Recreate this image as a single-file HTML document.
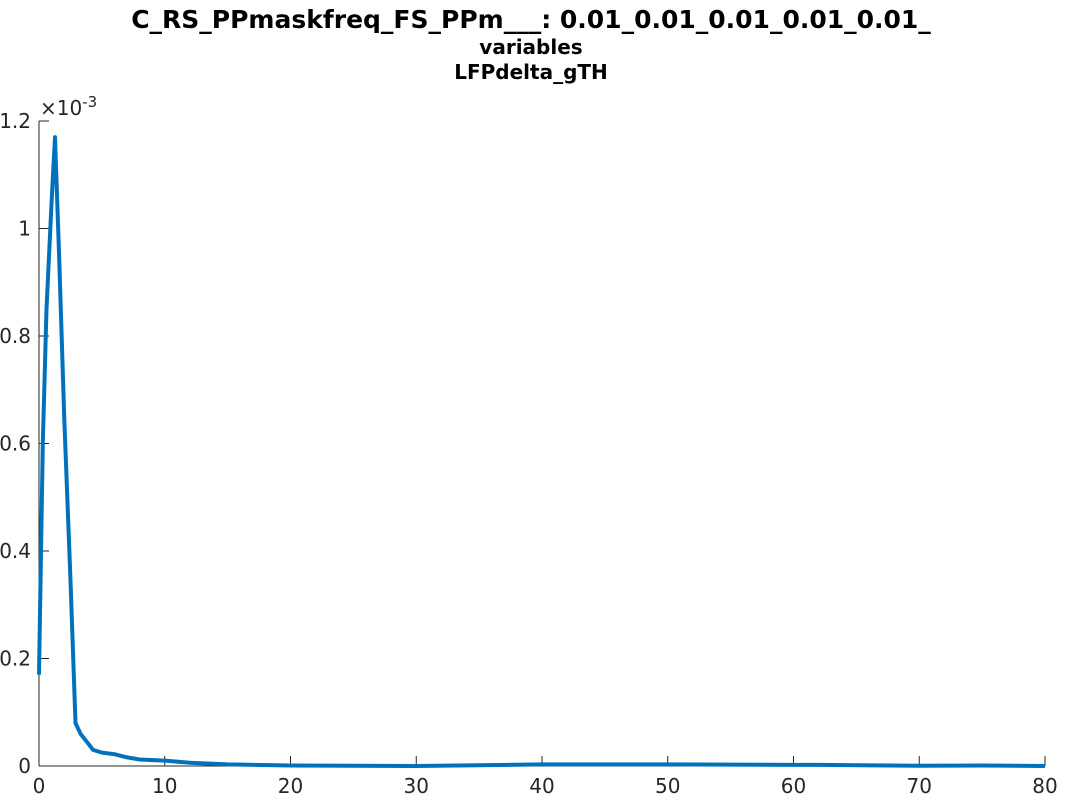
<!DOCTYPE html>
<html><head><meta charset="utf-8"><style>
body{margin:0;background:#fff;width:1067px;height:800px;overflow:hidden;font-family:"DejaVu Sans",sans-serif}
</style></head><body>
<svg id="chart" width="1067" height="800" xmlns="http://www.w3.org/2000/svg" font-family="DejaVu Sans, sans-serif">
<text x="531" y="28" text-anchor="middle" font-size="25" font-weight="bold" fill="#000">C_RS_PPmaskfreq_FS_PPm___: 0.01_0.01_0.01_0.01_0.01_</text>
<text x="531" y="54" text-anchor="middle" font-size="20" font-weight="bold" fill="#000">variables</text>
<text x="531" y="79" text-anchor="middle" font-size="20" font-weight="bold" fill="#000">LFPdelta_gTH</text>
<g id="axes"></g>
<g id="series"></g>
</svg>
<script>
const freqs=[0,0.3,0.6,1.0,1.27,1.6,2.0,2.5,2.9,3.3,3.8,4.3,5,6,7,8,10,12,15,20,30,40,50,60,62,70,75,80];
const power=[0.17,0.6,0.85,1.05,1.17,0.95,0.65,0.35,0.08,0.06,0.045,0.03,0.025,0.022,0.016,0.012,0.01,0.006,0.003,0.001,0.0,0.003,0.003,0.002,0.002,0.0005,0.001,0.0];
const xTicks=[0,10,20,30,40,50,60,70,80];
const yTicks=[0,0.2,0.4,0.6,0.8,1,1.2];
const yTickLabels=["0","0.2","0.4","0.6","0.8","1","1.2"];
const X0=39,X1=1045,Y0=766,Y1=121;
const xs=v=>X0+(v-0)/(80-0)*(X1-X0);
const ys=v=>Y0-(v-0)/(1.2-0)*(Y0-Y1);
const NS="http://www.w3.org/2000/svg";
const ax=document.getElementById('axes');
function mk(tag,attrs,parent){const e=document.createElementNS(NS,tag);for(const k in attrs)e.setAttribute(k,attrs[k]);parent.appendChild(e);return e;}
let l=mk('line',{x1:X0,y1:Y0,x2:X1,y2:Y0,stroke:'#262626','stroke-width':1},ax);


l=mk('line',{x1:X0,y1:Y0,x2:X0,y2:Y1,stroke:'#262626','stroke-width':1},ax);


xTicks.forEach(t=>{
 const x=xs(t);
 const tk=mk('line',{x1:x,y1:Y0,x2:x,y2:Y0-10,stroke:'#262626'},ax);
 
 
 const tx=mk('text',{x:x,y:Y0+27,'text-anchor':'middle','font-size':20,fill:'#262626'},ax);
 tx.textContent=t;
 
 
});
yTicks.forEach((t,i)=>{
 const y=ys(t);
 const tk=mk('line',{x1:X0,y1:y,x2:X0+10,y2:y,stroke:'#262626'},ax);
 
 
 const tx=mk('text',{x:X0-8,y:y+7,'text-anchor':'end','font-size':20,fill:'#262626'},ax);
 tx.textContent=yTickLabels[i];
 
 
});
const ex=mk('text',{x:40,y:115,'font-size':20,fill:'#262626'},ax);
ex.innerHTML='×10<tspan dy="-8" font-size="15">-3</tspan>';


const pts=freqs.map((f,i)=>xs(f).toFixed(1)+','+ys(power[i]).toFixed(1)).join(' ');
const pl=mk('polyline',{points:pts,fill:'none',stroke:'#0072BD','stroke-width':4,'stroke-linejoin':'round'},document.getElementById('series'));


</script>
</body></html>
